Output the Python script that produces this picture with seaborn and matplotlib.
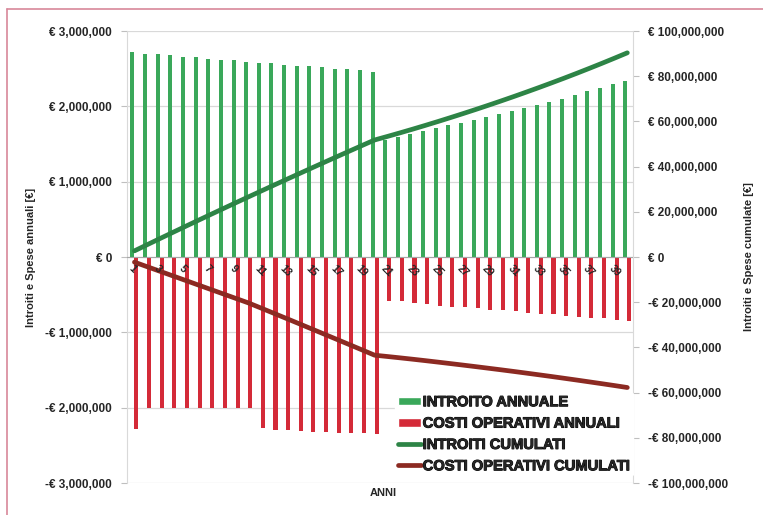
import numpy as np
import pandas as pd
import seaborn as sns
import matplotlib
matplotlib.use('Agg')
import matplotlib.pyplot as plt
import matplotlib.transforms as mtrans
import matplotlib.patheffects as pe
from matplotlib.lines import Line2D
from matplotlib.patches import Patch
from matplotlib.ticker import FuncFormatter

# data (millions of euro)
anni = list(range(1, 41))
introito_annuale = [
    2.72, 2.70, 2.69, 2.68, 2.66, 2.65, 2.63, 2.62, 2.61, 2.59,
    2.58, 2.57, 2.55, 2.54, 2.53, 2.52, 2.50, 2.49, 2.48, 2.46,
    1.55, 1.59, 1.63, 1.67, 1.71, 1.75, 1.78, 1.82, 1.86, 1.90,
    1.94, 1.98, 2.02, 2.06, 2.10, 2.15, 2.20, 2.24, 2.29, 2.34,
]
costi_annuali = [
    -2.28, -2.00, -2.00, -2.00, -2.00, -2.00, -2.00, -2.00, -2.00, -2.00,
    -2.27, -2.29, -2.30, -2.31, -2.32, -2.32, -2.33, -2.33, -2.34, -2.35,
    -0.58, -0.59, -0.61, -0.63, -0.65, -0.66, -0.67, -0.68, -0.70, -0.70,
    -0.72, -0.74, -0.75, -0.76, -0.78, -0.79, -0.81, -0.81, -0.83, -0.85,
]
introiti_cumulati = [
    2.72, 5.42, 8.11, 10.79, 13.45, 16.10, 18.73, 21.35, 23.96, 26.55,
    29.13, 31.70, 34.25, 36.79, 39.32, 41.84, 44.34, 46.83, 49.31, 51.77,
    53.32, 54.91, 56.54, 58.21, 59.92, 61.67, 63.45, 65.27, 67.13, 69.03,
    70.97, 72.95, 74.97, 77.03, 79.13, 81.28, 83.48, 85.72, 88.01, 90.35,
]
costi_cumulati = [
    -2.28, -4.28, -6.28, -8.28, -10.28, -12.28, -14.28, -16.28, -18.28, -20.28,
    -22.55, -24.84, -27.14, -29.45, -31.77, -34.09, -36.42, -38.75, -41.09, -43.44,
    -44.02, -44.61, -45.22, -45.85, -46.50, -47.16, -47.83, -48.51, -49.21, -49.91,
    -50.63, -51.37, -52.12, -52.88, -53.66, -54.45, -55.26, -56.07, -56.90, -57.75,
]

serie = ['INTROITO ANNUALE', 'COSTI OPERATIVI ANNUALI']
col_bar = {'INTROITO ANNUALE': '#3aa85a', 'COSTI OPERATIVI ANNUALI': '#d42a38'}
col_line_g = '#2d8446'
col_line_r = '#8c2a22'

df = pd.DataFrame({
    'anno': anni * 2,
    'valore': [v * 1e6 for v in introito_annuale] + [v * 1e6 for v in costi_annuali],
    'serie': [serie[0]] * 40 + [serie[1]] * 40,
})

sns.set_style('white')
plt.rcParams['font.family'] = ['Liberation Sans', 'DejaVu Sans']
plt.rcParams['font.weight'] = 'bold'
plt.rcParams['axes.labelweight'] = 'bold'

fig = plt.figure(figsize=(7.63, 5.15), dpi=100)
ax = fig.add_axes([127.5 / 763, 1 - 483 / 515, 505.5 / 763, 452 / 515])

sns.barplot(data=df, x='anno', y='valore', hue='serie', palette=col_bar,
            width=0.64, dodge=True, ax=ax, legend=False, saturation=1,
            linewidth=0)
ax.set_xlim(-0.55, 39.45)
ax.set_ylim(-3e6, 3e6)
ax.set_yticks(np.arange(-3e6, 3.01e6, 1e6))

def eur(v, pos):
    s = f'{abs(v):,.0f}'
    return f'-€ {s}' if v < 0 else f'€ {s}'

ax.yaxis.set_major_formatter(FuncFormatter(eur))
ax.grid(axis='y', color='#d9d9d9', linewidth=0.9)
ax.set_axisbelow(True)
for s in ['top', 'right']:
    ax.spines[s].set_visible(False)
ax.spines['left'].set_color('#d9d9d9')
ax.spines['bottom'].set_position(('data', 0))
ax.spines['bottom'].set_color('#a6a6a6')
ax.tick_params(axis='y', length=4, color='#bfbfbf', labelsize=8.5, pad=7)
ax.set_xticks([])
ax.set_xlabel('')
ax.set_ylabel('Introiti e Spese annuali [€]', fontsize=8, labelpad=7,
              fontweight='bold')

ax2 = ax.twinx()
x_pos = np.arange(40)
sns.lineplot(x=x_pos, y=[v * 1e6 for v in introiti_cumulati], ax=ax2,
             color=col_line_g, linewidth=3.4, solid_capstyle='round')
sns.lineplot(x=x_pos, y=[v * 1e6 for v in costi_cumulati], ax=ax2,
             color=col_line_r, linewidth=3.4, solid_capstyle='round')
ax2.set_ylim(-1e8, 1e8)
ax2.set_yticks(np.arange(-1e8, 1.01e8, 2e7))
ax2.yaxis.set_major_formatter(FuncFormatter(eur))
for s in ['top', 'left', 'bottom']:
    ax2.spines[s].set_visible(False)
ax2.spines['right'].set_color('#d9d9d9')
ax2.tick_params(axis='y', length=4, color='#bfbfbf', labelsize=8.5, pad=7)
ax2.set_ylabel('Introiti e Spese cumulate [€]', fontsize=8, labelpad=11,
               fontweight='bold')
ax2.grid(False)

# category labels on the zero line, drawn on top of the bars
off = mtrans.offset_copy(ax.transData, fig=fig, x=-3, y=-7, units='points')
for i, a in enumerate(anni):
    if a % 2 == 1:
        ax2.text(i, 0, str(a), transform=off, rotation=-45,
                 rotation_mode='anchor', ha='left', va='center', fontsize=7.5,
                 fontweight='bold', zorder=10)

handles = [
    Patch(facecolor=col_bar[serie[0]]),
    Patch(facecolor=col_bar[serie[1]]),
    Line2D([], [], color=col_line_g, linewidth=3.4),
    Line2D([], [], color=col_line_r, linewidth=3.4),
]
labels = ['INTROITO ANNUALE', 'COSTI OPERATIVI ANNUALI',
          'INTROITI CUMULATI', 'COSTI OPERATIVI CUMULATI']
leg = ax2.legend(handles, labels, loc='lower right', bbox_to_anchor=(1.0, 0.015),
                 frameon=True, facecolor='white', edgecolor='white', framealpha=1,
                 prop={'family': ['Liberation Sans', 'DejaVu Sans'],
                       'weight': 'bold', 'size': 10.6},
                 handlelength=1.6, handleheight=0.55,
                 handletextpad=0.1, labelspacing=0.5, borderpad=0.2,
                 borderaxespad=0.0)
for t in leg.get_texts():
    t.set_path_effects([pe.withStroke(linewidth=0.7, foreground='black')])

fig.text(383 / 763, 1 - 493 / 515, 'ANNI', ha='center', va='center',
         fontsize=8, fontweight='bold')

# outer frame (top and left edge visible)
fig.add_artist(Line2D([7 / 763, 7 / 763], [0, 1 - 9 / 515], color='#d8879a',
                      linewidth=1.2, transform=fig.transFigure))
fig.add_artist(Line2D([7 / 763, 1], [1 - 9 / 515, 1 - 9 / 515], color='#d8879a',
                      linewidth=1.2, transform=fig.transFigure))

fig.savefig('out.png', dpi=100)
